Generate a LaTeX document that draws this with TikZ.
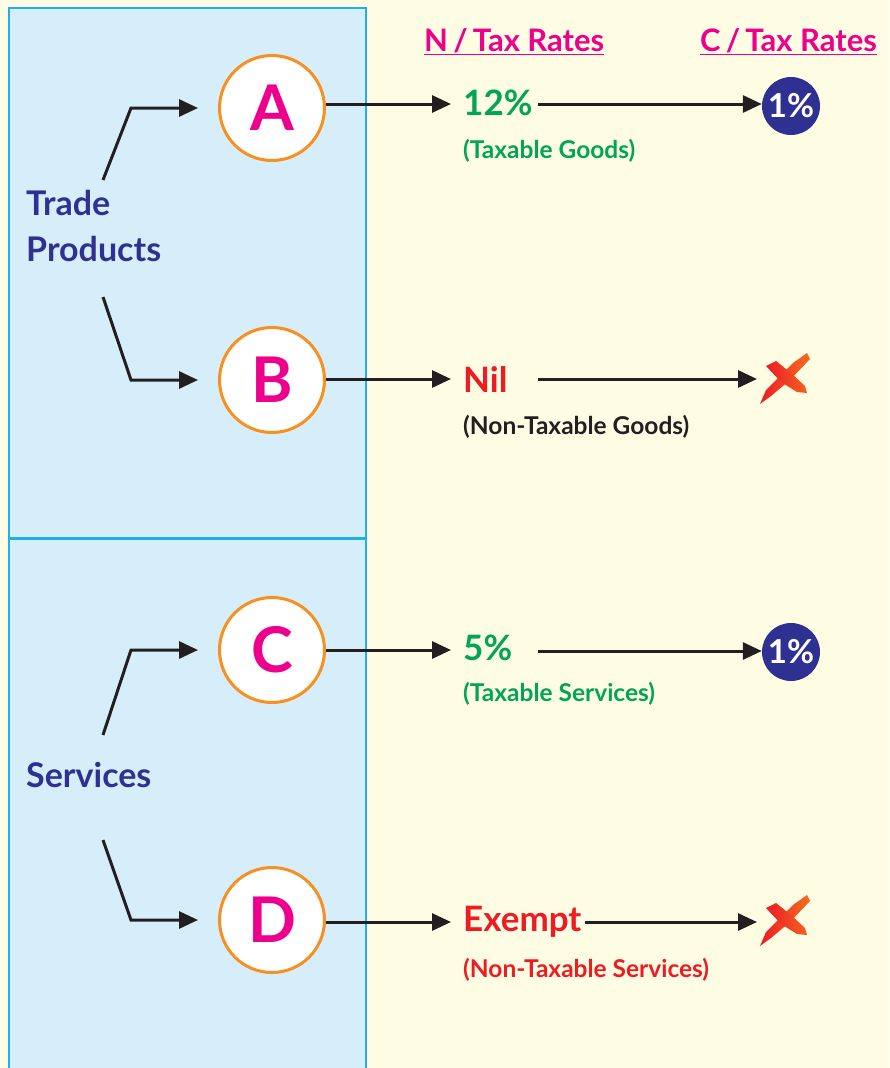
\documentclass[tikz,border=0pt]{standalone}
\usepackage{fontspec}
\setmainfont{Lato}
\usetikzlibrary{arrows.meta}
\definecolor{bgy}{HTML}{FEFDE4}
\definecolor{pnl}{HTML}{D6EEFA}
\definecolor{pnlb}{HTML}{1EB0E8}
\definecolor{orng}{HTML}{F7901E}
\definecolor{mag}{HTML}{EC008C}
\definecolor{navy}{HTML}{2E3192}
\definecolor{grn}{HTML}{00A651}
\definecolor{rd}{HTML}{ED1C24}
\definecolor{blk}{HTML}{231F20}
\newcommand{\fsz}[1]{\fontsize{#1}{#1}\selectfont\bfseries}
\tikzset{
  letter/.style={circle, draw=orng, line width=3pt, fill=white, minimum size=105pt, inner sep=0pt, text=mag, font=\fsz{63}},
  cat/.style={anchor=west, text=navy, font=\fsz{34}, align=left, inner sep=0pt},
  rate/.style={anchor=west, font=\fsz{35}, inner sep=0pt},
  sub/.style={anchor=west, font=\fsz{24.5}, inner sep=0pt},
  head/.style={anchor=west, text=mag, font=\fsz{31}, inner sep=0pt},
  onepc/.style={circle, fill=navy, minimum size=58pt, inner sep=0pt, text=white, font=\fsz{33}},
  arr/.style={draw=blk, line width=3pt, -{Triangle[length=19pt,width=17pt]}},
}
\begin{document}
\begin{tikzpicture}[x=1pt,y=-1pt]
\useasboundingbox (0,0) rectangle (889,1068);
\fill[bgy] (0,0) rectangle (889,1068);
\fill[pnl] (9,8) rectangle (366,1070);
\draw[pnlb, line width=2pt] (9,1070) -- (9,8) -- (366,8) -- (366,1070);
\draw[pnlb, line width=3.5pt] (9,538.5) -- (366,538.5);
% headers
\node[head] (hn) at (424,42) {\underline{N\,/\,Tax Rates}};
\node[head] (hc) at (700,42) {\underline{C\,/\,Tax Rates}};
% categories
\node[cat] (tp) at (26,226) {Trade\\[12pt]Products};
\node[cat] (sv) at (26,775) {Services};
\coordinate (tpa) at (103,180);
\coordinate (tpb) at (103,297);
\coordinate (sva) at (103,735);
\coordinate (svb) at (103,840);
% circles
\node[letter] (A) at (272,108) {A};
\node[letter] (B) at (272,380) {B};
\node[letter] (C) at (272,650) {C};
\node[letter] (D) at (272,920) {D};
\draw[arr, shorten >=20pt] (tpa) -- (131,108) -- (A.west);
\draw[arr, shorten >=20pt] (tpb) -- (131,380) -- (B.west);
\draw[arr, shorten >=20pt] (sva) -- (131,650) -- (C.west);
\draw[arr, shorten >=20pt] (svb) -- (131,920) -- (D.west);
% rates
\node[rate, text=grn] (r1) at (463,103) {12\%};
\node[sub, text=grn] (s1) at (463,151) {(Taxable Goods)};
\node[rate, text=rd] (r2) at (463,379) {Nil};
\node[sub, text=blk] (s2) at (463,427) {(Non-Taxable Goods)};
\node[rate, text=grn] (r3) at (463,648) {5\%};
\node[sub, text=grn] (s3) at (463,694) {(Taxable Services)};
\node[rate, text=rd] (r4) at (463,922) {Exempt};
\node[sub, text=rd] (s4) at (463,970) {(Non-Taxable Services)};
\coordinate (a1) at (451,104);
\coordinate (a2) at (451,379);
\coordinate (a3) at (451,650);
\coordinate (a4) at (451,922);
\draw[arr] (A.east |- a1) -- (a1);
\draw[arr] (B.east |- a2) -- (a2);
\draw[arr] (C.east |- a3) -- (a3);
\draw[arr] (D.east |- a4) -- (a4);
% C rates
\node[onepc] (o1) at (791,106) {1\%};
\node[onepc] (o3) at (791,652) {1\%};
\coordinate (x2) at (785,378);
\coordinate (x4) at (785,920);
\coordinate (b1) at (538,104);
\coordinate (b2) at (538,379);
\coordinate (b3) at (538,651);
\draw[arr] (b1) -- (o1.west |- b1);
\draw[arr] (b2) -- (757,379);
\draw[arr] (b3) -- (o3.west |- b3);
\draw[arr] (r4.east) ++(3,0) coordinate (b4) -- (757,922);
% crosses
\foreach \c in {x2,x4}{
  \begin{scope}[shift={(\c)}]
    \shade[left color=rd, right color=orng!70!rd]
      (-25,26) -- (-19,12) -- (8,-15) -- (22,-25) -- (25,-19) -- (5,2) -- (-14,18) -- cycle;
    \shade[left color=rd, right color=orng!60!rd]
      (-19,-12) -- (-9,-17) -- (6,-5) -- (20,8) -- (22,15) -- (12,14) -- (-4,4) -- cycle;
  \end{scope}
}
\end{tikzpicture}
\end{document}
